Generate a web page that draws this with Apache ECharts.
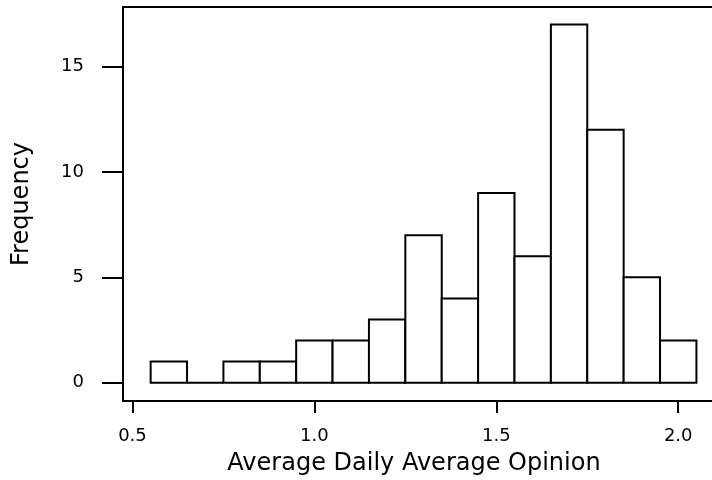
<!DOCTYPE html>
<html>
<head>
<meta charset="utf-8">
<script src="https://cdn.jsdelivr.net/npm/echarts@6/dist/echarts.min.js"></script>
<style>
  html, body { margin: 0; padding: 0; background: #fff; }
  #chart { width: 712px; height: 480px; }
</style>
</head>
<body>
<div id="chart"></div>
<script>
// Histogram bin edges (16 edges -> 15 bins) and the count in each bin
const binEdges = [0.55, 0.65, 0.75, 0.85, 0.95, 1.05, 1.15, 1.25, 1.35, 1.45, 1.55, 1.65, 1.75, 1.85, 1.95, 2.05];
const counts   = [1, 0, 1, 1, 2, 2, 3, 7, 4, 9, 6, 17, 12, 5, 2];

// Tick positions / labels
const xTicks = [0.5, 1.0, 1.5, 2.0];
const yTicks = [0, 5, 10, 15];

const xTitle = 'Average Daily Average Opinion';
const yTitle = 'Frequency';

const histData = counts.map((c, i) => [binEdges[i], binEdges[i + 1], c]);

const FONT = 'DejaVu Sans';
const chart = echarts.init(document.getElementById('chart'), null, { renderer: 'canvas' });

chart.setOption({
  animation: false,
  backgroundColor: '#ffffff',
  grid: {
    left: 123, top: 7, width: 628, height: 394,
    containLabel: false,
    outerBoundsMode: 'none',
    show: true,
    borderColor: '#000',
    borderWidth: 2,
    backgroundColor: 'transparent'
  },
  xAxis: {
    type: 'value',
    min: 0.474,
    max: 2.2,
    name: xTitle,
    nameLocation: 'middle',
    nameGap: 51,
    nameTextStyle: { fontFamily: FONT, fontSize: 24, color: '#000', padding: [0, 46, 0, 0] },
    axisLine: { show: true, onZero: false, lineStyle: { color: '#000', width: 2 } },
    axisTick: { show: true, inside: false, length: 12, customValues: xTicks, lineStyle: { color: '#000', width: 2 } },
    axisLabel: {
      show: true, margin: 26, customValues: xTicks,
      fontFamily: FONT, fontSize: 18, color: '#000',
      formatter: v => v.toFixed(1)
    },
    splitLine: { show: false }
  },
  yAxis: {
    type: 'value',
    min: -0.869,
    max: 17.83,
    name: yTitle,
    nameLocation: 'middle',
    nameRotate: 90,
    nameGap: 89,
    nameTextStyle: { fontFamily: FONT, fontSize: 24, color: '#000' },
    axisLine: { show: true, onZero: false, lineStyle: { color: '#000', width: 2 } },
    axisTick: { show: true, inside: false, length: 21, customValues: yTicks, lineStyle: { color: '#000', width: 2 } },
    axisLabel: {
      show: true, margin: 39, customValues: yTicks,
      fontFamily: FONT, fontSize: 18, color: '#000'
    },
    splitLine: { show: false }
  },
  series: [{
    type: 'custom',
    clip: false,
    data: histData,
    encode: { x: [0, 1], y: 2 },
    renderItem: function (params, api) {
      const lo = api.value(0), hi = api.value(1), c = api.value(2);
      const topLeft = api.coord([lo, c]);
      const bottomRight = api.coord([hi, 0]);
      return {
        type: 'rect',
        shape: {
          x: topLeft[0],
          y: topLeft[1],
          width: bottomRight[0] - topLeft[0],
          height: bottomRight[1] - topLeft[1]
        },
        style: { fill: '#ffffff', stroke: '#000000', lineWidth: 2 }
      };
    }
  }]
});
</script>
</body>
</html>
